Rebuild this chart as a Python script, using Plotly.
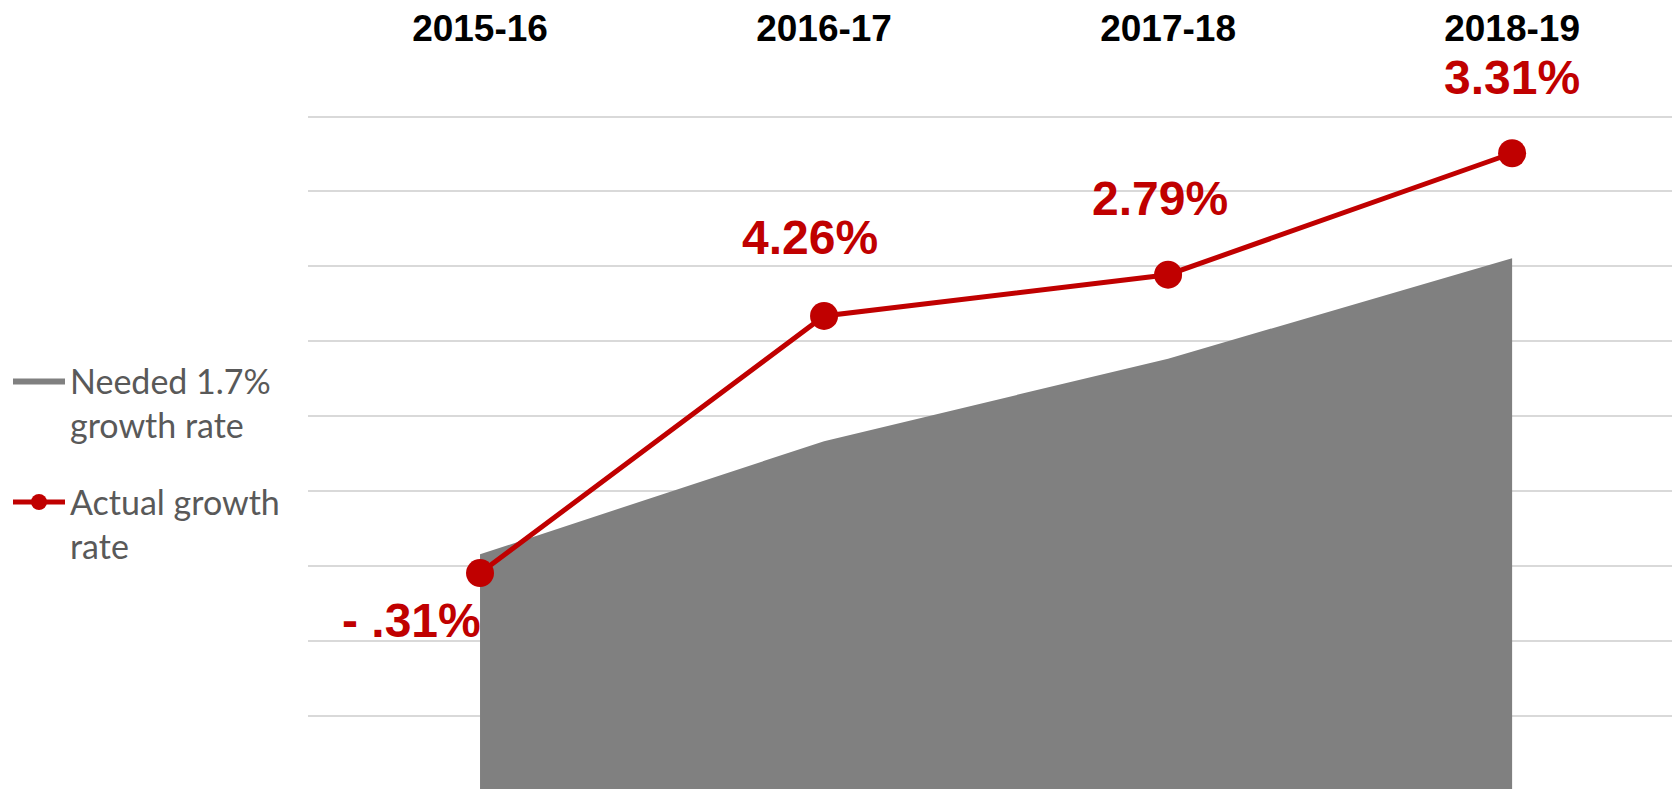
import plotly.graph_objects as go

years = ["2015-16", "2016-17", "2017-18", "2018-19"]
needed = [3.16, 4.67, 5.77, 7.11]
actual = [2.91, 6.34, 6.89, 8.51]
actual_labels = ["- .31%", "4.26%", "2.79%", "3.31%"]
label_xshift = [-69, -14, -8, 0]
label_yshift = [-47, 78, 76, 76]

RED = "#c00000"
GRAY = "#808080"

fig = go.Figure()
fig.add_trace(go.Scatter(
    x=years, y=needed, mode="lines", fill="tozeroy",
    fillcolor=GRAY, line=dict(width=0, color=GRAY),
    name="Needed 1.7%<br>growth rate", legendgroup="a",
    hoverinfo="skip",
))
fig.add_trace(go.Scatter(
    x=years, y=actual, mode="lines+markers",
    line=dict(color=RED, width=5),
    marker=dict(color=RED, size=28),
    name="Actual growth<br>rate", legendgroup="b",
))

for xv, yv, t, dx, dy in zip(years, actual, actual_labels, label_xshift, label_yshift):
    fig.add_annotation(
        x=xv, y=yv, text=t, showarrow=False,
        xshift=dx, yshift=dy,
        font=dict(family="Arial, Liberation Sans", size=48, color=RED, weight="bold"),
    )

fig.update_layout(
    width=1672, height=781,
    margin=dict(l=300, r=0, t=105, b=0),
    paper_bgcolor="white", plot_bgcolor="white",
    showlegend=True,
    legend=dict(
        xref="container", yref="container",
        x=0.0, y=1 - 344 / 781, xanchor="left", yanchor="top",
        font=dict(family="Lato, Noto Sans", size=34, color="#595959"),
        valign="top", tracegroupgap=30, bgcolor="rgba(0,0,0,0)",
        itemwidth=52,
    ),
    xaxis=dict(
        type="category", categoryorder="array", categoryarray=years,
        range=[-0.5, 3.488], side="top",
        showgrid=False, showline=False, zeroline=False, ticks="",
        tickfont=dict(family="Arial, Liberation Sans", size=37, color="black", weight="bold"),
        ticklabelstandoff=66,
    ),
    yaxis=dict(
        range=[0.03, 9.02], dtick=1, tick0=0,
        showgrid=True, gridcolor="#d9d9d9", gridwidth=2,
        showticklabels=False, zeroline=False, showline=False, ticks="",
    ),
)

fig.write_html("out.html")
